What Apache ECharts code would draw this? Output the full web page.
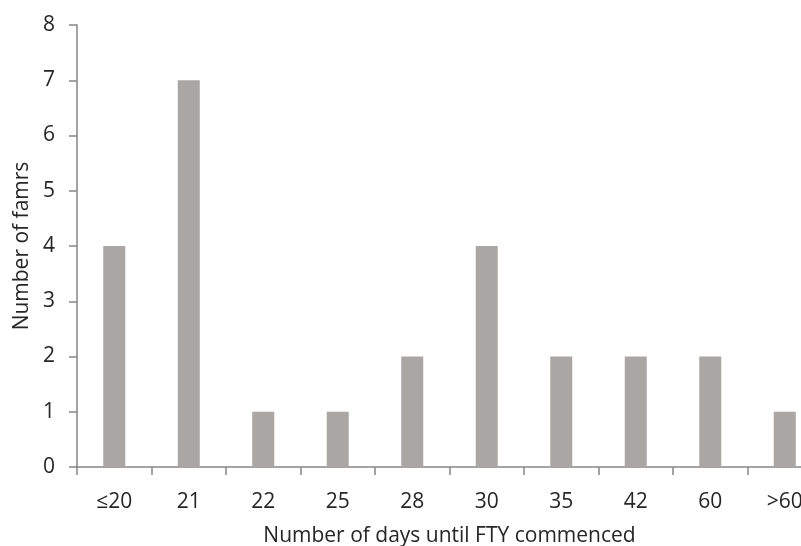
<!DOCTYPE html>
<html>
<head>
<meta charset="utf-8">
<script src="https://cdn.jsdelivr.net/npm/echarts@6/dist/echarts.min.js"></script>
<style>html,body{margin:0;padding:0;background:#fff;overflow:hidden;width:801px;height:546px;}#c{width:830px;height:546px;}</style>
</head>
<body>
<div id="c"></div>
<script>
var categories = ['≤20', '21', '22', '25', '28', '30', '35', '42', '60', '>60'];
var farms = [4, 7, 1, 1, 2, 4, 2, 2, 2, 1];
var yTicks = [0, 1, 2, 3, 4, 5, 6, 7, 8];

var chart = echarts.init(document.getElementById('c'));
var font = 'Open Sans';
var txt = '#262626';
var axisCol = '#868686';
chart.setOption({
  animation: false,
  backgroundColor: '#ffffff',
  grid: { left: 77, top: 25, width: 745, height: 442, containLabel: false, outerBoundsMode: 'none' },
  xAxis: {
    type: 'category',
    data: categories,
    name: 'Number of days until FTY commenced',
    nameLocation: 'middle',
    nameGap: 59,
    nameTextStyle: { fontFamily: font, fontSize: 21, color: txt },
    axisLine: { lineStyle: { color: axisCol, width: 1.5 } },
    axisTick: { show: true, length: 8, inside: false, lineStyle: { color: axisCol, width: 1.5 } },
    axisLabel: { fontFamily: font, fontSize: 21, color: txt, margin: 25 },
    splitLine: { show: false }
  },
  yAxis: {
    type: 'value',
    min: yTicks[0],
    max: yTicks[yTicks.length - 1],
    interval: 1,
    name: 'Number of famrs',
    nameLocation: 'middle',
    nameGap: 44,
    nameTextStyle: { fontFamily: font, fontSize: 21, color: txt },
    axisLine: { show: true, lineStyle: { color: axisCol, width: 1.5 } },
    axisTick: { show: true, length: 8, inside: false, lineStyle: { color: axisCol, width: 1.5 } },
    axisLabel: { fontFamily: font, fontSize: 21, color: txt, margin: 22 },
    splitLine: { show: false }
  },
  series: [{
    type: 'bar',
    data: farms,
    barWidth: 22,
    itemStyle: { color: '#aaa6a4' }
  }]
});
</script>
</body>
</html>
